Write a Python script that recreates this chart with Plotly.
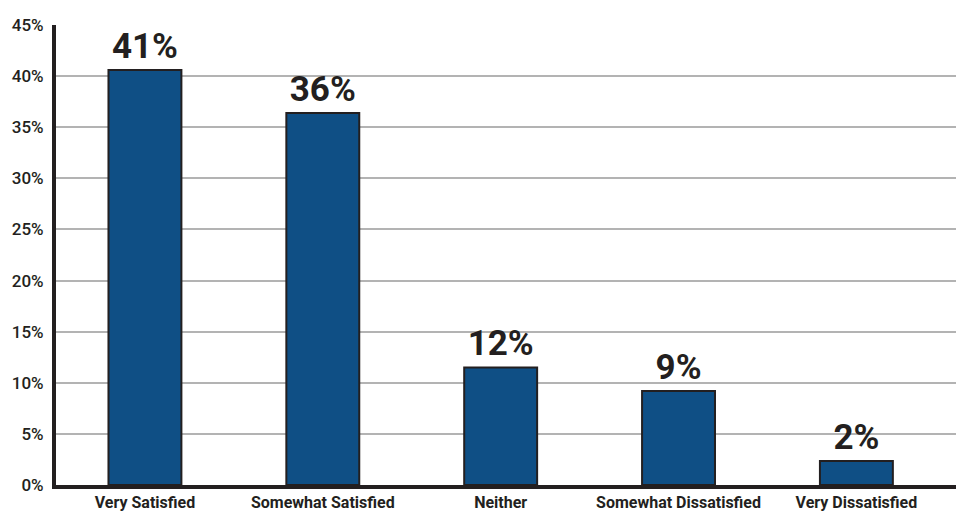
import plotly.graph_objects as go

categories = ["Very Satisfied", "Somewhat Satisfied", "Neither", "Somewhat Dissatisfied", "Very Dissatisfied"]
values = [40.6, 36.4, 11.5, 9.2, 2.35]
labels = ["41%", "36%", "12%", "9%", "2%"]
y_ticks = [0, 5, 10, 15, 20, 25, 30, 35, 40, 45]
y_tick_text = [f"{t}%" for t in y_ticks]

FONT = "Roboto, 'DejaVu Sans Condensed', sans-serif"

fig = go.Figure(go.Bar(
    x=list(range(len(categories))),
    y=values,
    text=labels,
    textposition="outside",
    textfont=dict(family=FONT, size=35, color="#231f20", weight="bold"),
    cliponaxis=False,
    width=0.41,
    marker=dict(color="#0f4f85", line=dict(color="#231f20", width=2)),
))

fig.update_layout(
    width=956, height=512,
    margin=dict(l=56, r=0, t=25, b=27),
    plot_bgcolor="white", paper_bgcolor="white",
    showlegend=False,
    xaxis=dict(
        range=[-0.5, 4.56],
        tickmode="array", tickvals=list(range(len(categories))), ticktext=categories,
        tickfont=dict(family=FONT, size=16, color="#231f20", weight="bold"),
        showline=True, linecolor="#231f20", linewidth=4,
        showgrid=False, ticks="", zeroline=False,
    ),
    yaxis=dict(
        range=[0, 45],
        tickmode="array", tickvals=y_ticks, ticktext=y_tick_text,
        tickfont=dict(family=FONT, size=17, color="#231f20", weight=500),
        showline=True, linecolor="#231f20", linewidth=4,
        showgrid=True, gridcolor="#b3b3b3", gridwidth=2,
        ticks="", zeroline=False, ticklabelstandoff=5,
    ),
)

fig.write_html("out.html")
